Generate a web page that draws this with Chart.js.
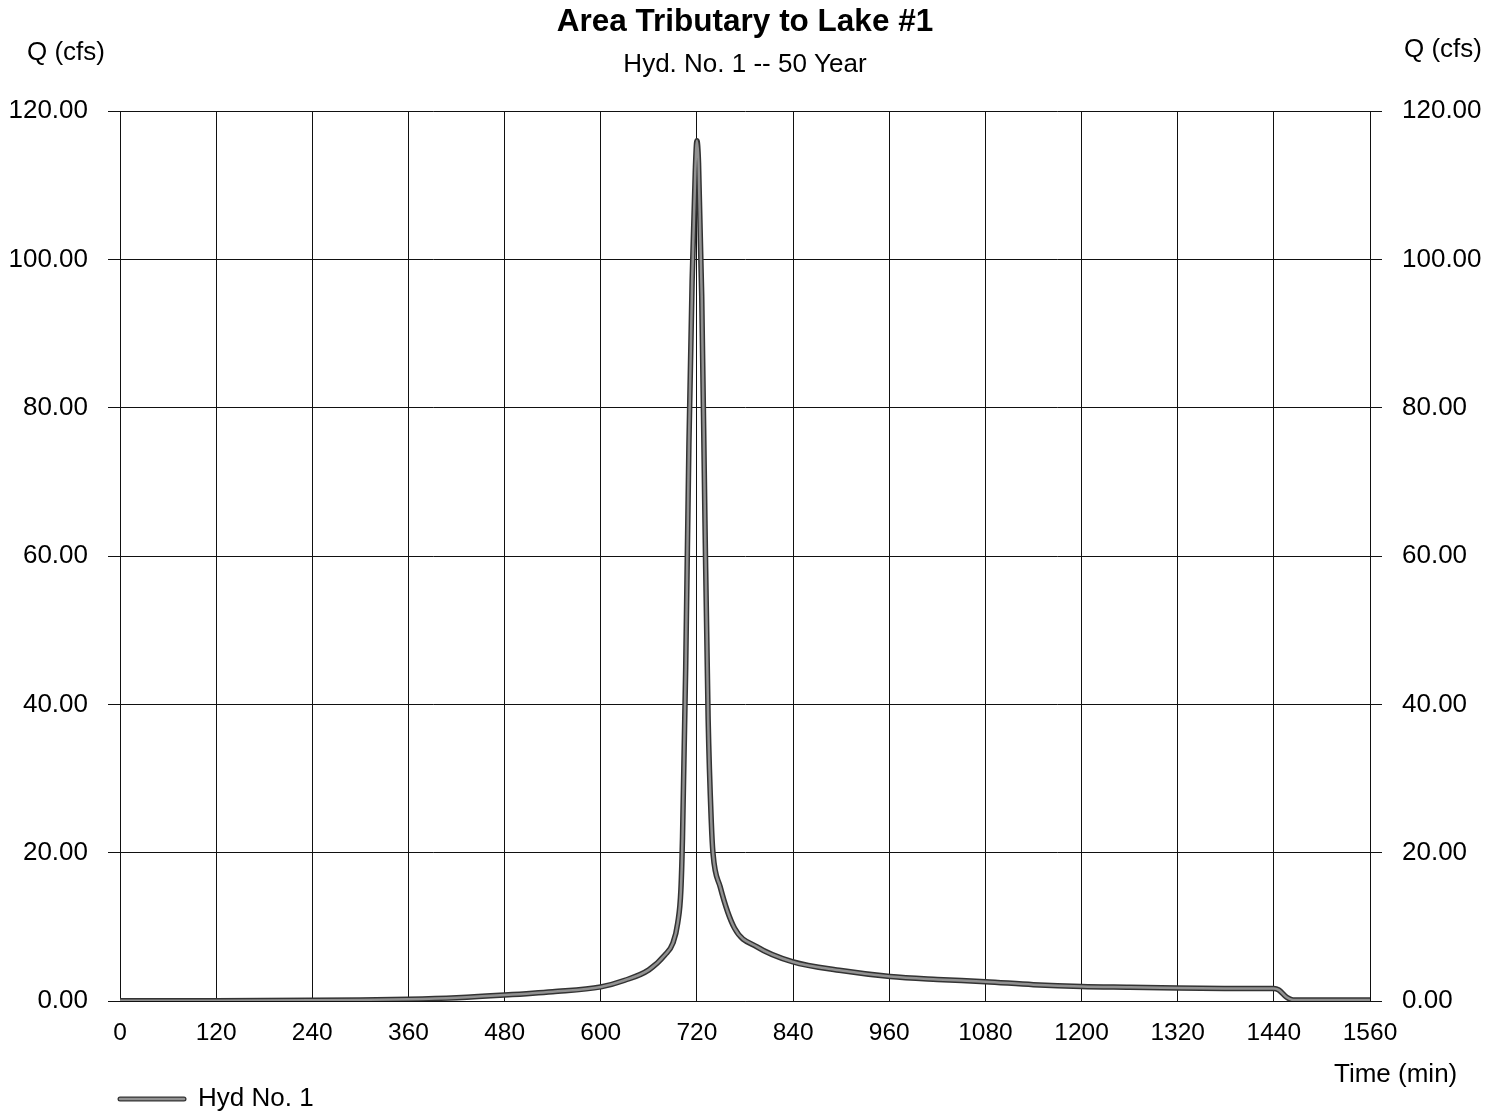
<!DOCTYPE html>
<html>
<head>
<meta charset="utf-8">
<title>Area Tributary to Lake #1</title>
<script src="https://cdn.jsdelivr.net/npm/chart.js@4/dist/chart.umd.min.js"></script>
<style>
  html, body { margin: 0; padding: 0; background: #fff; }
  #wrap { width: 1500px; height: 1112px; }
</style>
</head>
<body>
<div id="wrap"><canvas id="hydroChart" width="1500" height="1112"></canvas></div>
<script>
// Hydrograph ordinates, Hyd. No. 1 (50 year)
const timeMin = [0, 120, 240, 300, 360, 420, 480, 540, 600, 630, 660, 680, 690, 696, 700, 702, 706, 710, 714, 718, 720, 722, 726, 730, 734, 738, 740, 749, 767, 795, 839, 900, 961, 1020, 1080, 1140, 1200, 1260, 1320, 1380, 1440, 1446, 1456, 1464, 1560];
const flowCfs = [0.05, 0.05, 0.1, 0.15, 0.25, 0.45, 0.8, 1.25, 1.9, 2.8, 4.2, 6.2, 7.8, 10.5, 15, 22, 45, 75, 97, 112, 116, 113, 95, 65, 38, 24, 20, 15.4, 9.8, 7.3, 5.3, 4.1, 3.3, 2.9, 2.6, 2.2, 1.95, 1.85, 1.75, 1.7, 1.7, 1.5, 0.5, 0.15, 0.15];

const xTicks = [0, 120, 240, 360, 480, 600, 720, 840, 960, 1080, 1200, 1320, 1440, 1560];
const yTicks = [0, 20, 40, 60, 80, 100, 120];

const FONT = "'Liberation Sans', Arial, Helvetica, sans-serif";
const EDGE = "#333";
const CORE = "#929292";
const points = timeMin.map((t, i) => ({ x: t, y: flowCfs[i] }));

// titles, axis captions and legend drawn straight on the canvas
const captions = {
  id: "captions",
  afterDraw(chart) {
    const c = chart.ctx;
    c.save();
    c.fillStyle = "#000";
    c.textBaseline = "middle";

    c.textAlign = "center";
    c.font = "bold 31.5px " + FONT;
    c.fillText("Area Tributary to Lake #1", 745, 22);
    c.font = "26px " + FONT;
    c.fillText("Hyd. No. 1 -- 50 Year", 745, 65);

    c.textAlign = "left";
    c.font = "26px " + FONT;
    c.fillText("Q (cfs)", 27, 53);
    c.fillText("Q (cfs)", 1404, 50);
    c.fillText("Time (min)", 1334, 1075);

    // legend swatch
    c.lineCap = "round";
    c.strokeStyle = EDGE;
    c.lineWidth = 5;
    c.beginPath(); c.moveTo(120, 1099); c.lineTo(184, 1099); c.stroke();
    c.strokeStyle = CORE;
    c.lineWidth = 2.5;
    c.beginPath(); c.moveTo(120, 1099); c.lineTo(184, 1099); c.stroke();
    c.fillStyle = "#000";
    c.fillText("Hyd No. 1", 198, 1099);
    c.restore();
  }
};

const yAxisBase = {
  type: "linear",
  min: 0,
  max: 120,
  afterBuildTicks: axis => { axis.ticks = yTicks.map(v => ({ value: v })); },
  ticks: {
    color: "#000",
    padding: 20,
    font: { family: FONT, size: 26 },
    callback: v => Number(v).toFixed(2)
  },
  border: { display: true, color: "#111", width: 1 }
};

new Chart(document.getElementById("hydroChart"), {
  type: "line",
  data: {
    datasets: [
      {
        label: "Hyd No. 1",
        data: points,
        borderColor: EDGE,
        borderWidth: 5.5,
        pointRadius: 0,
        cubicInterpolationMode: "monotone",
        fill: false,
        order: 1
      },
      {
        label: "Hyd No. 1 core",
        data: points,
        borderColor: CORE,
        borderWidth: 2.5,
        pointRadius: 0,
        cubicInterpolationMode: "monotone",
        fill: false,
        order: 0
      }
    ]
  },
  options: {
    responsive: false,
    animation: false,
    layout: { padding: { top: 111, left: 0, right: 0, bottom: 0 } },
    plugins: {
      legend: { display: false },
      title: { display: false },
      tooltip: { enabled: false }
    },
    scales: {
      x: {
        type: "linear",
        min: 0,
        max: 1560,
        afterBuildTicks: axis => { axis.ticks = xTicks.map(v => ({ value: v })); },
        afterFit: axis => { axis.height = 111; },
        grid: { color: "#111", lineWidth: 1, drawTicks: false },
        border: { display: true, color: "#111", width: 1 },
        ticks: {
          color: "#000",
          padding: 18,
          maxRotation: 0,
          autoSkip: false,
          font: { family: FONT, size: 24.5 },
          callback: v => String(v)
        }
      },
      y: Object.assign({}, yAxisBase, {
        position: "left",
        afterFit: axis => { axis.width = 120; },
        grid: { color: "#111", lineWidth: 1, tickLength: 12 }
      }),
      y2: Object.assign({}, yAxisBase, {
        position: "right",
        afterFit: axis => { axis.width = 130; },
        grid: { color: "#111", lineWidth: 1, tickLength: 12, drawOnChartArea: false }
      })
    }
  },
  plugins: [captions]
});
</script>
</body>
</html>
